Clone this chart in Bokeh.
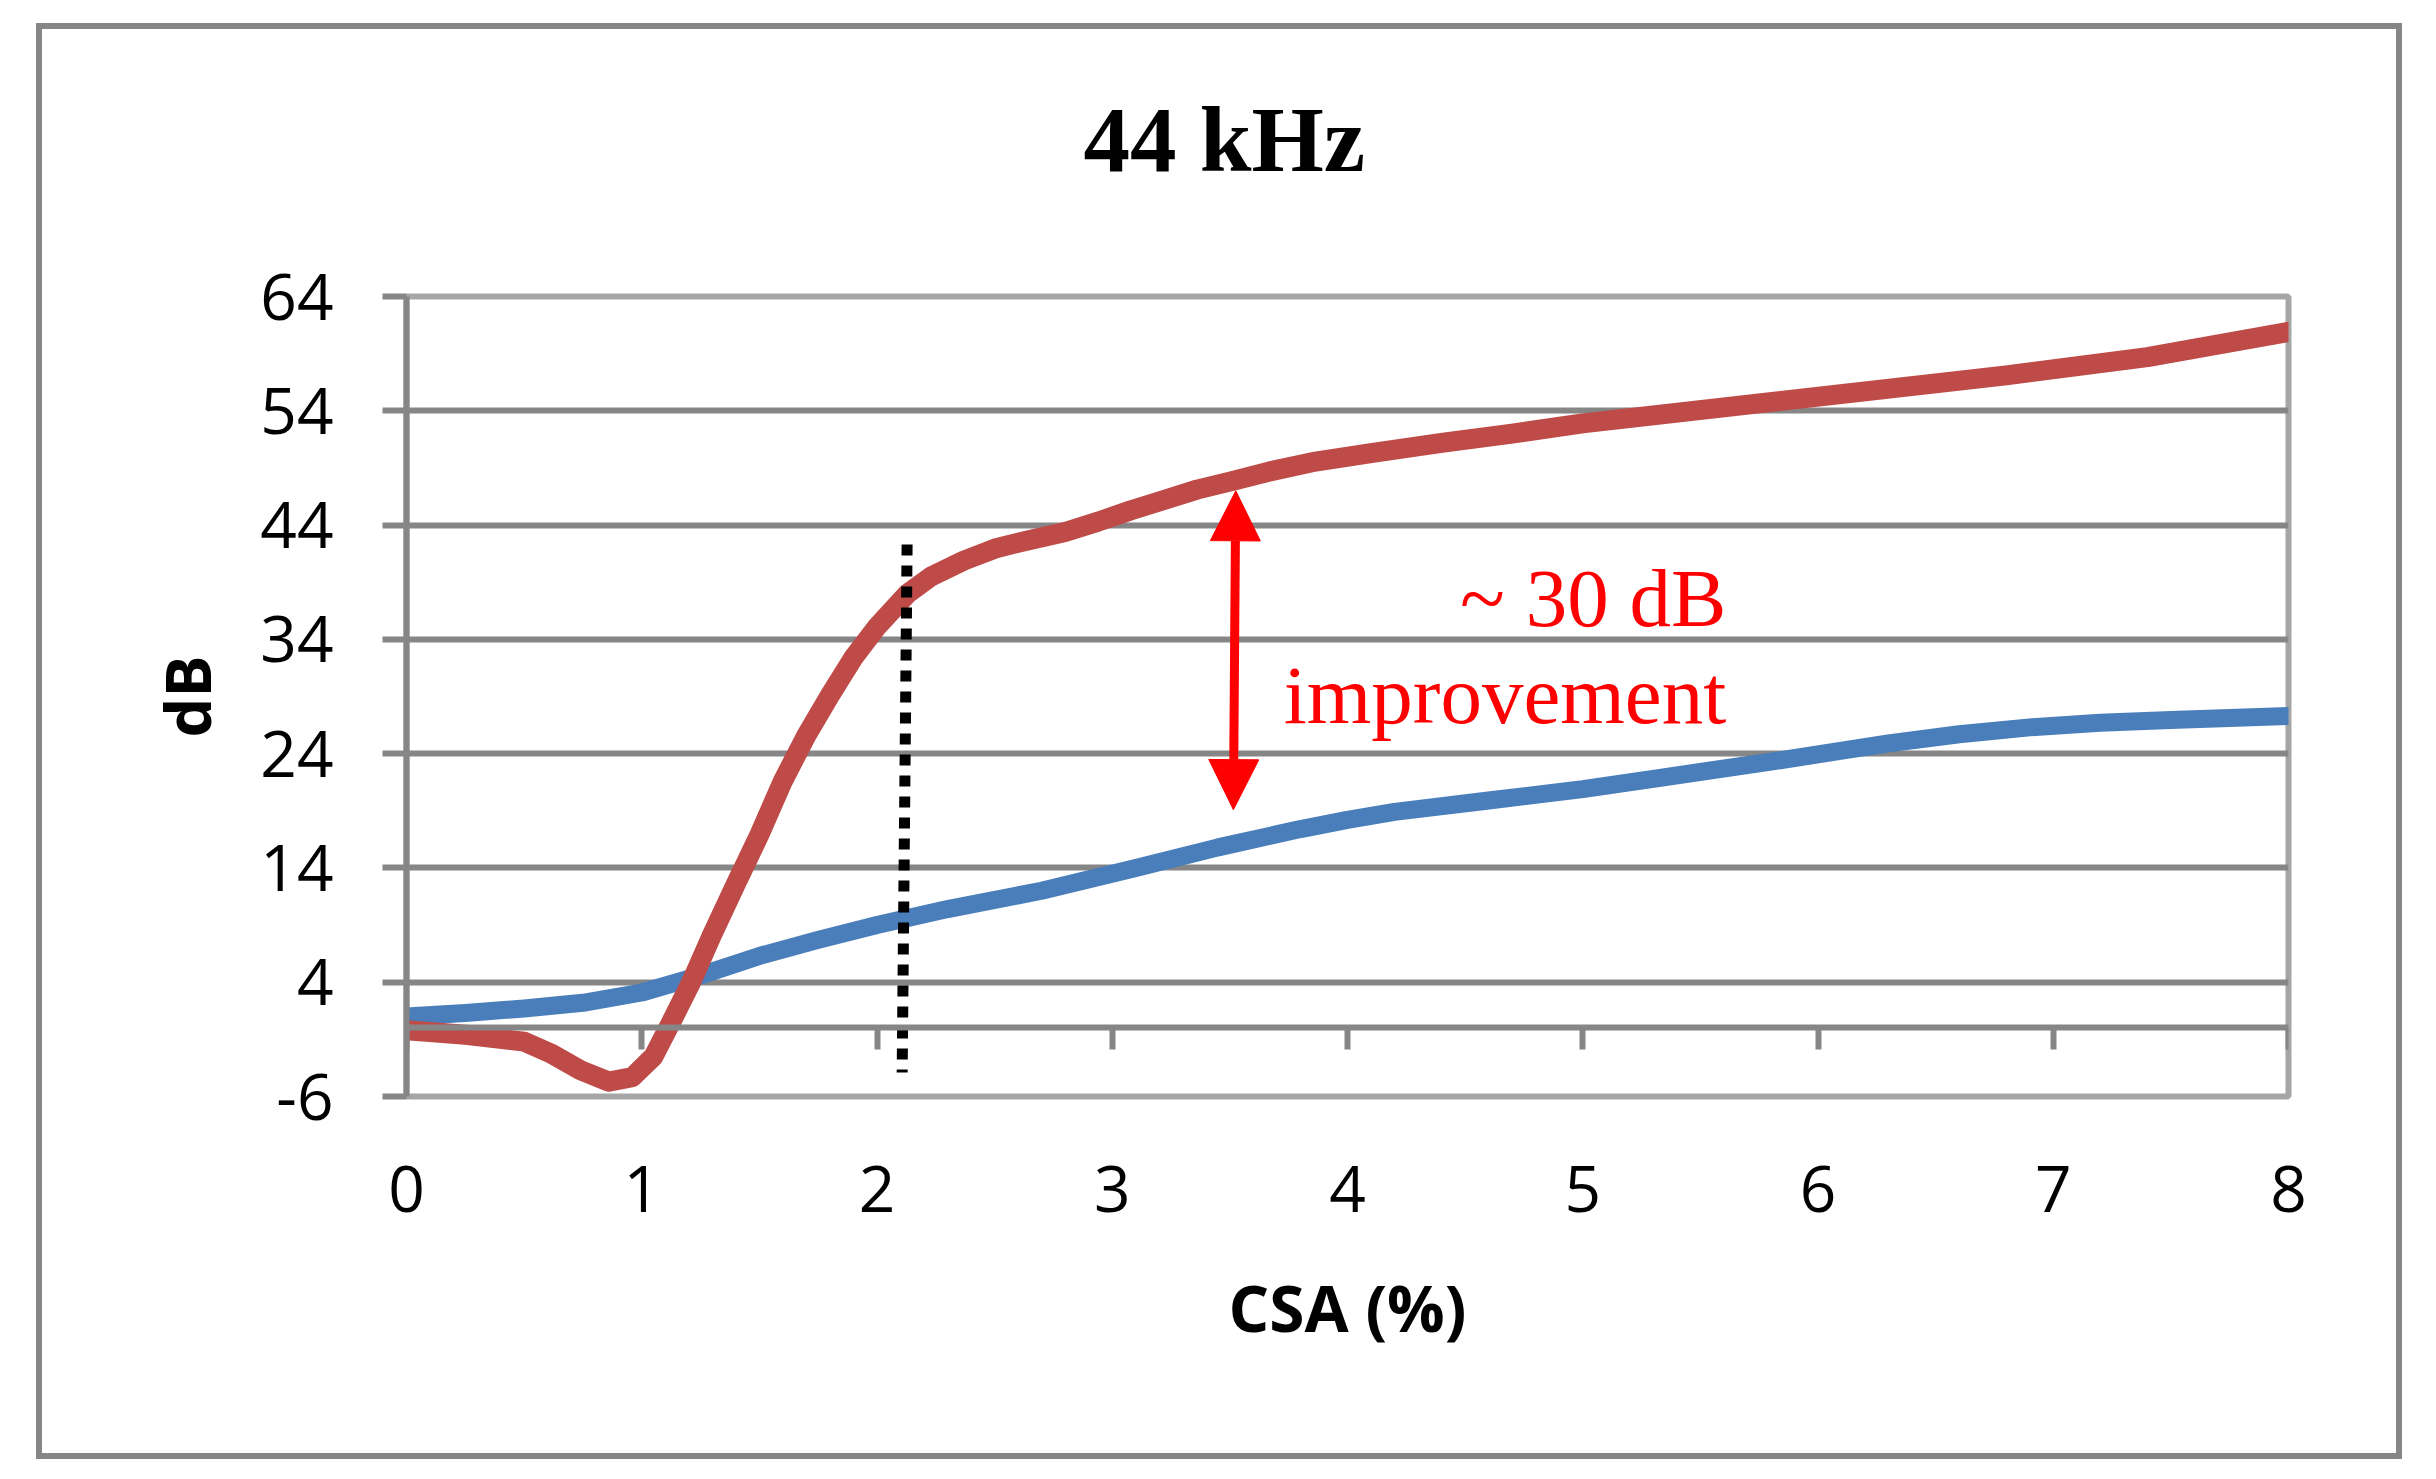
from bokeh.plotting import figure
from bokeh.models import Range1d, FixedTicker, LinearAxis, Arrow, NormalHead, Label, Title
from bokeh.embed import file_html
from bokeh.resources import INLINE

# ---- data ----
x_blue = [0, 0.25, 0.5, 0.75, 1.0, 1.25, 1.5, 1.75, 2.0, 2.3, 2.7, 3.1, 3.45, 3.8,
          4.0, 4.2, 4.6, 5.0, 5.3, 5.8, 6.3, 6.6, 6.9, 7.2, 7.5, 8.0]
y_blue = [1.0, 1.3, 1.7, 2.2, 3.1, 4.6, 6.3, 7.7, 9.0, 10.4, 12.0, 14.0, 15.8, 17.4,
          18.2, 18.9, 19.9, 20.9, 21.8, 23.3, 24.9, 25.7, 26.3, 26.7, 26.95, 27.3]

x_red = [0, 0.25, 0.5, 0.62, 0.74, 0.86, 0.96, 1.05, 1.12, 1.21, 1.3, 1.4, 1.5, 1.6,
         1.7, 1.8, 1.9, 2.0, 2.13, 2.23, 2.37, 2.51, 2.65, 2.8, 2.94, 3.08, 3.22,
         3.36, 3.5, 3.67, 3.85, 4.1, 4.4, 4.7, 5.0, 5.6, 6.2, 6.8, 7.4, 8.0]
y_red = [-0.2, -0.6, -1.2, -2.3, -3.7, -4.7, -4.3, -2.5, 0.3, 4.0, 8.2, 12.6, 16.9, 21.6,
         25.6, 29.1, 32.4, 35.1, 38.0, 39.5, 40.9, 42.0, 42.7, 43.4, 44.3, 45.3, 46.2,
         47.1, 47.8, 48.7, 49.5, 50.3, 51.2, 52.0, 52.9, 54.3, 55.7, 57.1, 58.7, 60.9]

x_ticks = [0, 1, 2, 3, 4, 5, 6, 7, 8]
x_tick_labels = ["0", "1", "2", "3", "4", "5", "6", "7", "8"]
y_ticks = [-6, 4, 14, 24, 34, 44, 54, 64]
y_tick_labels = ["-6", "4", "14", "24", "34", "44", "54", "64"]

marker_x = [2.128, 2.107]    # dotted vertical line (top, bottom)
marker_y = [42.3, -3.9]
arrow_x = [3.515, 3.525]     # arrow (start, end)
arrow_y = [19.1, 47.0]

title_text = "44 kHz"
x_label = "CSA (%)"
y_label = "dB"
note_lines = ["~ 30 dB", "improvement"]

GRID = "#868686"
BORDER = "#a6a6a6"

p = figure(width=2354, height=1424,
           x_range=Range1d(x_ticks[0], x_ticks[-1]),
           y_range=Range1d(y_ticks[0], y_ticks[-1]),
           output_backend="svg", toolbar_location=None,
           min_border_left=364, min_border_right=108,
           min_border_top=267, min_border_bottom=357,
           background_fill_color="white", border_fill_color="white")
p.margin = (29, 6, 6, 42)
p.styles = {"box-shadow": "0 0 0 6px #868686"}

p.outline_line_color = BORDER
p.outline_line_width = 6

# chart title (placed above an empty spacer so it sits high in the chart area)
p.title.text = title_text
p.title.text_font = "Liberation Serif"
p.title.text_font_style = "bold"
p.title.text_font_size = "93px"
p.title.text_color = "black"
p.title.align = "left"
p.title.offset = 677
p.title.standoff = 0
p.add_layout(Title(text=" ", text_font_size="10px", standoff=93), "above")

# grid
p.xgrid.visible = False
p.ygrid.ticker = FixedTicker(ticks=y_ticks[1:-1])
p.ygrid.grid_line_color = GRID
p.ygrid.grid_line_width = 6

# y axis
ya = p.left[0]
ya.ticker = FixedTicker(ticks=y_ticks)
ya.major_label_overrides = dict(zip(y_ticks, y_tick_labels))
ya.axis_line_color = GRID
ya.axis_line_width = 6
ya.major_tick_line_color = GRID
ya.major_tick_line_width = 6
ya.major_tick_out = 24
ya.major_tick_in = 0
ya.minor_tick_line_color = None
ya.major_label_standoff = 49
ya.major_label_text_font = "Open Sans"
ya.major_label_text_font_size = "64px"
ya.major_label_text_color = "black"
ya.axis_label = y_label
ya.axis_label_text_font = "Open Sans"
ya.axis_label_text_font_style = "bold"
ya.axis_label_text_font_size = "63px"
ya.axis_label_text_color = "black"
ya.axis_label_standoff = 28

# x axis (labels at bottom of plot)
xa = p.below[0]
xa.ticker = FixedTicker(ticks=x_ticks)
xa.major_label_overrides = dict(zip(x_ticks, x_tick_labels))
xa.axis_line_color = None
xa.major_tick_line_color = None
xa.minor_tick_line_color = None
xa.major_tick_out = 0
xa.major_tick_in = 0
xa.major_label_standoff = 69
xa.major_label_text_font = "Open Sans"
xa.major_label_text_font_size = "64px"
xa.major_label_text_color = "black"
xa.axis_label = x_label
xa.axis_label_text_font = "Open Sans"
xa.axis_label_text_font_style = "bold"
xa.axis_label_text_font_size = "64px"
xa.axis_label_text_color = "black"
xa.axis_label_standoff = 49

# horizontal axis line crossing at y = 0
x0a = LinearAxis(fixed_location=0, ticker=FixedTicker(ticks=x_ticks))
x0a.axis_line_color = GRID
x0a.axis_line_width = 6
x0a.major_tick_line_color = GRID
x0a.major_tick_line_width = 6
x0a.major_tick_out = 22
x0a.major_tick_in = 0
x0a.minor_tick_line_color = None
x0a.major_label_text_color = None
x0a.major_label_text_font_size = "1px"
p.add_layout(x0a, "below")

# series
p.line(x_blue, y_blue, line_color="#4A7EBB", line_width=18,
       line_join="round", line_cap="round")
p.line(x_red, y_red, line_color="#BE4B48", line_width=20,
       line_join="round", line_cap="round")

# dotted marker line
p.segment(x0=[marker_x[0]], y0=[marker_y[0]], x1=[marker_x[1]], y1=[marker_y[1]],
          line_color="black", line_width=11, line_dash="11 10", line_cap="butt")

# double arrow
p.add_layout(Arrow(start=NormalHead(size=50, fill_color="#FF0000", line_color="#FF0000"),
                   end=NormalHead(size=50, fill_color="#FF0000", line_color="#FF0000"),
                   x_start=arrow_x[0], y_start=arrow_y[0],
                   x_end=arrow_x[1], y_end=arrow_y[1],
                   line_color="#FF0000", line_width=9))

# annotation text
p.add_layout(Label(x=5.61, y=37.65, text=note_lines[0], text_align="right",
                   text_baseline="alphabetic", text_font="Liberation Serif",
                   text_font_size="83px", text_color="#FF0000"))
p.add_layout(Label(x=5.61, y=29.15, text=note_lines[1], text_align="right",
                   text_baseline="alphabetic", text_font="Liberation Serif",
                   text_font_size="83px", text_color="#FF0000"))

open("out.html", "w").write(file_html(p, INLINE))
